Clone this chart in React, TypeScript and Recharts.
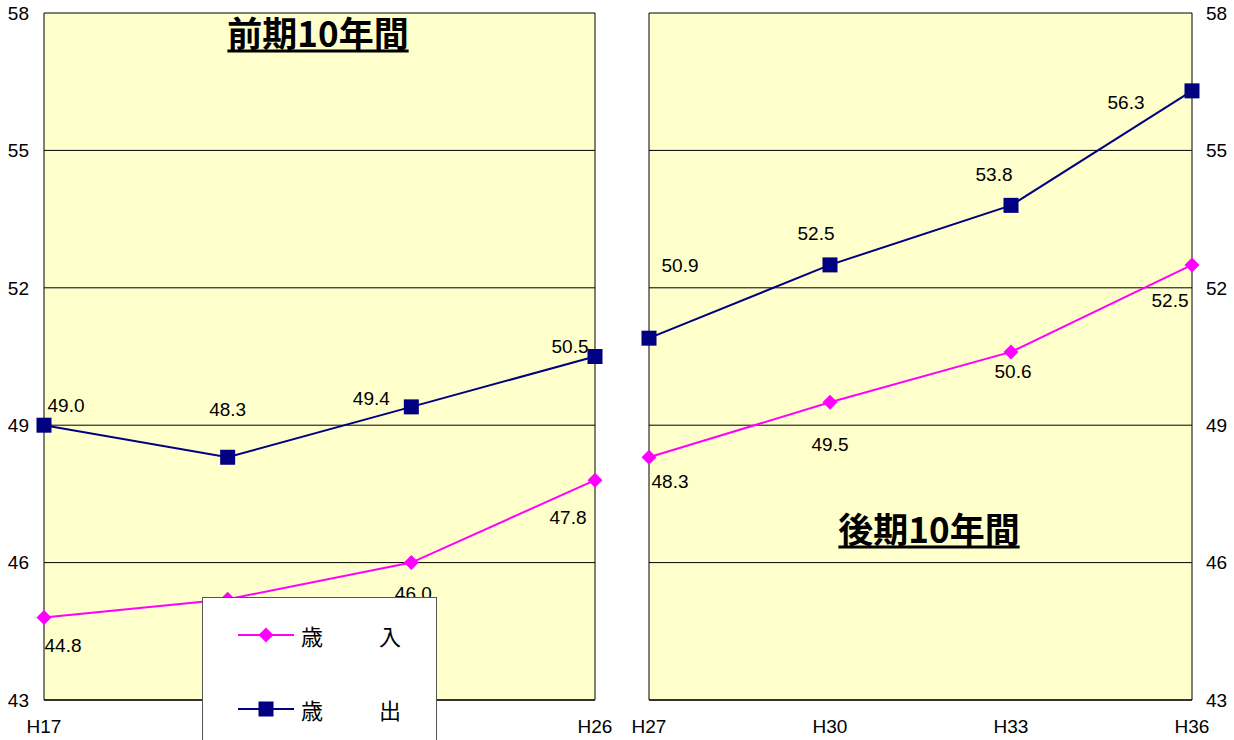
import React from "react";
import {
  CartesianGrid,
  Line,
  LineChart,
  ReferenceLine,
  XAxis,
  YAxis,
} from "recharts";

// 前期 (H17–H26)
const yearsEarly = ["H17", "H20", "H23", "H26"];
const revenueEarly = [44.8, 45.2, 46.0, 47.8];
const spendingEarly = [49.0, 48.3, 49.4, 50.5];

// 後期 (H27–H36)
const yearsLate = ["H27", "H30", "H33", "H36"];
const revenueLate = [48.3, 49.5, 50.6, 52.5];
const spendingLate = [50.9, 52.5, 53.8, 56.3];

const yTicks = [43, 46, 49, 52, 55, 58];

const REVENUE = "#FF00FF";
const SPENDING = "#000080";
const PLOT_BG = "#FFFFCC";
const FONT = "'Liberation Sans', Arial, sans-serif";
const JP_FONT = "'Noto Sans CJK JP', sans-serif";
const FS = 19;

// label offsets from each point [dx, dy]
const revOffsetsEarly = [[19, 28], [0, 30], [2, 31], [-27, 37]];
const spendOffsetsEarly = [[22, -20], [0, -48], [-40, -8], [-25, -10]];
const revOffsetsLate = [[21, 24], [0, 42], [2, 20], [-22, 36]];
const spendOffsetsLate = [[31, -73], [-14, -31], [-17, -31], [-66, 12]];

const buildRows = (years: string[], rev: number[], spend: number[]) =>
  years.map((year, i) => ({ year, revenue: rev[i], spending: spend[i] }));

const Diamond = (props: any) => {
  const { cx, cy } = props;
  if (cx == null || cy == null) return null;
  const r = 7.5;
  return (
    <path
      d={`M${cx},${cy - r}L${cx + r},${cy}L${cx},${cy + r}L${cx - r},${cy}Z`}
      fill={REVENUE}
    />
  );
};

const Square = (props: any) => {
  const { cx, cy } = props;
  if (cx == null || cy == null) return null;
  return <rect x={cx - 7.5} y={cy - 7.5} width={15} height={15} fill={SPENDING} />;
};

const makeLabel = (offsets: number[][]) => (props: any) => {
  const { x, y, value, index } = props;
  const [dx, dy] = offsets[index] || [0, 0];
  return (
    <text
      key={`lbl-${index}`}
      x={x + dx}
      y={y + dy}
      textAnchor="middle"
      dominantBaseline="central"
      fontSize={FS}
      fontFamily={FONT}
      fill="#000"
    >
      {Number(value).toFixed(1)}
    </text>
  );
};

interface PanelProps {
  years: string[];
  revenue: number[];
  spending: number[];
  side: "left" | "right";
  revOffsets: number[][];
  spendOffsets: number[][];
}

const Panel: React.FC<PanelProps> = ({
  years,
  revenue,
  spending,
  side,
  revOffsets,
  spendOffsets,
}) => {
  const rows = buildRows(years, revenue, spending);
  const isLeft = side === "left";
  return (
    <LineChart
      width={isLeft ? 620 : 614}
      height={740}
      data={rows}
      margin={
        isLeft
          ? { top: 13, right: 25, bottom: 0, left: 0 }
          : { top: 13, right: 0, bottom: 0, left: 29 }
      }
    >
      <CartesianGrid
        vertical={false}
        stroke="#000"
        strokeWidth={1}
        fill={PLOT_BG}
        fillOpacity={1}
      />
      <XAxis
        dataKey="year"
        scale="point"
        padding={{ left: 0, right: 0 }}
        height={40}
        tickLine={false}
        tickMargin={14}
        axisLine={{ stroke: "#333", strokeWidth: 2 }}
        tick={{ fontSize: FS, fontFamily: FONT, fill: "#000" }}
        interval={0}
      />
      <YAxis
        orientation={side}
        width={isLeft ? 44 : 42}
        domain={[43, 58]}
        ticks={yTicks}
        tickLine={false}
        tickMargin={isLeft ? 9 : 8}
        axisLine={{ stroke: "#000" }}
        tick={{ fontSize: FS, fontFamily: FONT, fill: "#000" }}
        interval={0}
      />
      <ReferenceLine
        x={isLeft ? years[years.length - 1] : years[0]}
        stroke="#000"
        strokeWidth={1}
      />
      <Line
        dataKey="revenue"
        stroke={REVENUE}
        strokeWidth={2}
        dot={<Diamond />}
        activeDot={false}
        label={makeLabel(revOffsets)}
        isAnimationActive={false}
      />
      <Line
        dataKey="spending"
        stroke={SPENDING}
        strokeWidth={2}
        dot={<Square />}
        activeDot={false}
        label={makeLabel(spendOffsets)}
        isAnimationActive={false}
      />
    </LineChart>
  );
};

const titleStyle: React.CSSProperties = {
  position: "absolute",
  fontFamily: JP_FONT,
  fontWeight: 700,
  fontSize: 35,
  textDecoration: "underline",
  textDecorationThickness: 3,
  textUnderlineOffset: 3,
  whiteSpace: "nowrap",
  transform: "translate(-50%, -50%)",
  lineHeight: 1,
};

const LegendRow: React.FC<{ kind: "rev" | "spend"; a: string; b: string; top: number }> = ({
  kind,
  a,
  b,
  top,
}) => (
  <div style={{ position: "absolute", left: 0, top, width: 235, height: 30 }}>
    <svg width={70} height={30} style={{ position: "absolute", left: 35, top: 0 }}>
      <line
        x1={0}
        y1={15}
        x2={56}
        y2={15}
        stroke={kind === "rev" ? REVENUE : SPENDING}
        strokeWidth={2}
      />
      {kind === "rev" ? (
        <Diamond cx={28} cy={15} />
      ) : (
        <Square cx={28} cy={15} />
      )}
    </svg>
    <span
      style={{
        position: "absolute",
        left: 98,
        top: 2,
        fontFamily: JP_FONT,
        fontSize: 22,
        lineHeight: "26px",
      }}
    >
      {a}
    </span>
    <span
      style={{
        position: "absolute",
        left: 176,
        top: 2,
        fontFamily: JP_FONT,
        fontSize: 22,
        lineHeight: "26px",
      }}
    >
      {b}
    </span>
  </div>
);

export default function App() {
  return (
    <div
      style={{
        position: "absolute",
        left: 0,
        top: 0,
        width: 1234,
        height: 740,
        overflow: "hidden",
        background: "#fff",
      }}
    >
      <div style={{ position: "absolute", left: 0, top: 0 }}>
        <Panel
          years={yearsEarly}
          revenue={revenueEarly}
          spending={spendingEarly}
          side="left"
          revOffsets={revOffsetsEarly}
          spendOffsets={spendOffsetsEarly}
        />
      </div>
      <div style={{ position: "absolute", left: 620, top: 0 }}>
        <Panel
          years={yearsLate}
          revenue={revenueLate}
          spending={spendingLate}
          side="right"
          revOffsets={revOffsetsLate}
          spendOffsets={spendOffsetsLate}
        />
      </div>

      <div style={{ ...titleStyle, left: 318, top: 31 }}>前期10年間</div>
      <div style={{ ...titleStyle, left: 929, top: 527 }}>後期10年間</div>

      {/* legend box */}
      <div
        style={{
          position: "absolute",
          left: 202,
          top: 597,
          width: 233,
          height: 160,
          background: "#fff",
          border: "1px solid #555",
        }}
      >
        <LegendRow kind="rev" a="歳" b="入" top={22} />
        <LegendRow kind="spend" a="歳" b="出" top={96} />
      </div>
    </div>
  );
}
